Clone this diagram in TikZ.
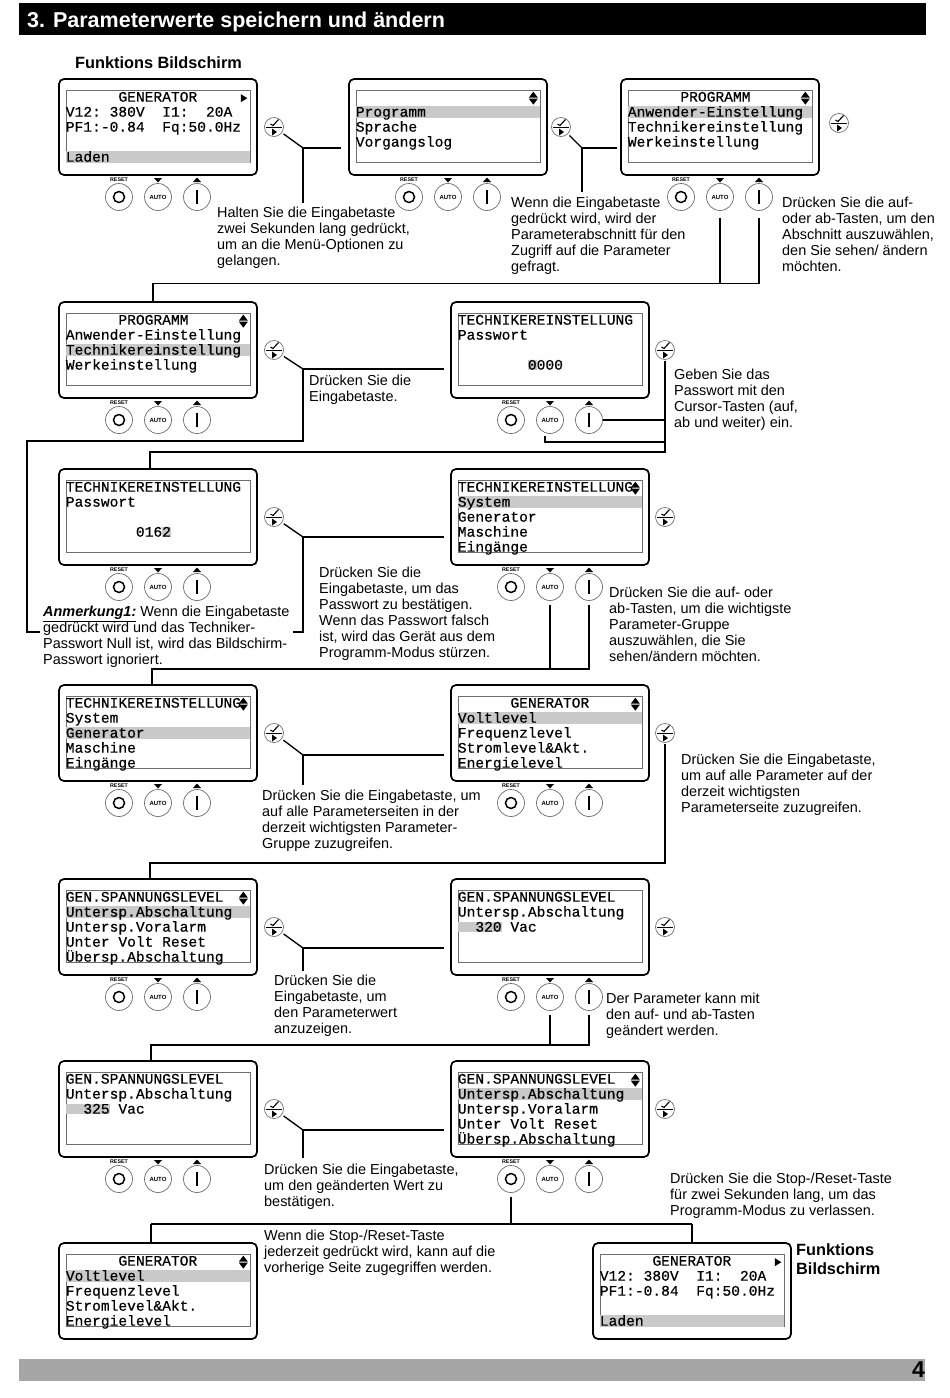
\documentclass[tikz,border=0pt]{standalone}
\usepackage{fontspec}
\setmainfont{Liberation Sans}
\newfontfamily\lcdfont[RawFeature={embolden=0.5}]{Liberation Mono}
\usepackage{tikz}
\usetikzlibrary{arrows.meta, calc, positioning}
\definecolor{lcdgrey}{HTML}{C9C9C9}
\definecolor{barfill}{HTML}{A6A6A6}
\definecolor{rimgrey}{HTML}{6E6E6E}
\newcommand{\lcdspaces}{\def~{\hspace*{8.76pt}}}
\tikzset{
    panelbox/.style={draw=black, line width=1.7pt, rounded corners=5pt, minimum width=198pt, minimum height=96pt, inner sep=0pt},
    screenbox/.style={draw=rimgrey, line width=0.7pt, minimum width=184pt, minimum height=72pt, inner sep=0pt},
    lcdrow/.style={anchor=west, inner sep=0pt, text width=184pt, text height=10.5pt, text depth=1.5pt, align=left, font=\lcdfont\fontsize{14.6}{15}\selectfont\lcdspaces},
    lcdmarked/.style={lcdrow, fill=lcdgrey},
    keybutton/.style={circle, draw=rimgrey, line width=0.7pt, fill=white, minimum size=27pt, inner sep=0pt},
    entericon/.style={circle, draw=rimgrey, line width=0.7pt, minimum size=19pt, inner sep=0pt},
    conn/.style={line width=1.35pt},
    notetext/.style={anchor=north west, inner sep=0pt, yshift=-0.8pt, align=left, font=\fontsize{14.45}{16.1}\selectfont},
    headtext/.style={anchor=north west, inner sep=0pt, yshift=-1pt, align=left, font=\bfseries\fontsize{16.3}{19}\selectfont},
}
\newcommand{\lcdhl}[1]{{\setlength{\fboxsep}{0pt}\colorbox{lcdgrey}{#1}}}
% Anzeige: Name, x, y
\newcommand{\lcdpanel}[3]{
    \node[panelbox] (#1) at (#2+99,#3+48) {};
    \node[screenbox] (#1s) at (#2+99,#3+47.5) {};
    \coordinate (#1m) at ([xshift=-7pt,yshift=-8pt]#1s.north east);
}
% Zeile: Anzeige, Nummer, Text
\newcommand{\lcdline}[3]{
    \node[lcdrow] (#1r#2) at ([yshift={(8-15*#2)*1pt}]#1s.north west) {#3};
}
\newcommand{\lcdsel}[3]{
    \node[lcdmarked] (#1r#2) at ([yshift={(8-15*#2)*1pt}]#1s.north west) {#3};
}
\newcommand{\lcdupdown}[1]{
    \fill ([shift={(-4.5pt,0.5pt)}]#1m) -- ([shift={(4.5pt,0.5pt)}]#1m) -- ([shift={(0pt,6.5pt)}]#1m) -- cycle;
    \fill ([shift={(-4.5pt,-0.5pt)}]#1m) -- ([shift={(4.5pt,-0.5pt)}]#1m) -- ([shift={(0pt,-6.5pt)}]#1m) -- cycle;
}
\newcommand{\lcdnext}[1]{
    \fill ([shift={(-2.5pt,4pt)}]#1m) -- ([shift={(-2.5pt,-4pt)}]#1m) -- ([shift={(4pt,0pt)}]#1m) -- cycle;
}
% Tasten unter der Anzeige: Name, x, y
\newcommand{\lcdkeys}[3]{
    \node[keybutton] (#1r) at (#2+60,#3+118) {};
    \draw[line width=1.5pt] (#1r.center) circle (5.5pt);
    \node[keybutton, font=\bfseries\fontsize{6}{6}\selectfont] (#1a) at (#2+99,#3+118) {AUTO};
    \node[keybutton] (#1u) at (#2+138,#3+118) {};
    \draw[line width=1.2pt] ([yshift=7pt]#1u.center) -- ([yshift=-7pt]#1u.center);
    \node[inner sep=0pt, font=\bfseries\fontsize{5.3}{6}\selectfont] (#1t) at (#2+60,#3+101) {RESET};
    \fill ([shift={(-4pt,2pt)}]#2+99,#3+101) -- ([shift={(4pt,2pt)}]#2+99,#3+101) -- ([shift={(0pt,-2.5pt)}]#2+99,#3+101) -- cycle;
    \fill ([shift={(-4pt,-2pt)}]#2+138,#3+101) -- ([shift={(4pt,-2pt)}]#2+138,#3+101) -- ([shift={(0pt,2.5pt)}]#2+138,#3+101) -- cycle;
}
% Eingabetaste: Name, x, y
\newcommand{\enterkey}[3]{
    \node[entericon] (#1) at (#2,#3) {};
    \draw[line width=0.9pt] ([xshift=-8pt]#1.center) -- ([xshift=8pt]#1.center);
    \draw[line width=1.1pt] ([shift={(-3.5pt,3pt)}]#1.center) -- ([shift={(-1pt,1.5pt)}]#1.center) -- ([shift={(4.5pt,7.5pt)}]#1.center);
    \fill ([shift={(-2pt,-1.5pt)}]#1.center) -- ([shift={(-2pt,-8.5pt)}]#1.center) -- ([shift={(3pt,-5pt)}]#1.center) -- cycle;
}

\begin{document}
\begin{tikzpicture}[x=1pt, y=-1pt]
    \useasboundingbox (0,0) rectangle (950,1398);

    % Kopf und Fuss
    \node[fill=black, minimum width=907pt, minimum height=32pt, inner sep=0pt] (headbar) at (472.5,19) {};
    \node[anchor=west, inner sep=0pt, text=white, font=\bfseries\fontsize{21.5}{24}\selectfont] (headtitle) at (27,22) {3. Parameterwerte speichern und ändern};
    \node[fill=barfill, minimum width=906pt, minimum height=22pt, inner sep=0pt] (footbar) at (472,1370) {};
    \node[anchor=east, inner sep=0pt, font=\bfseries\fontsize{23}{24}\selectfont] (pagenum) at (925,1370) {4};
    \node[headtext] (fbhead) at (75,55) {Funktions Bildschirm};

    % Reihe 1
    \lcdpanel{a1}{59}{79}
    \lcdline{a1}{1}{~~~~~~GENERATOR}
    \lcdline{a1}{2}{V12:~380V~~I1:~~20A}
    \lcdline{a1}{3}{PF1:-0.84~~Fq:50.0Hz}
    \lcdsel{a1}{5}{Laden}
    \lcdnext{a1}
    \lcdkeys{a1k}{59}{79}
    \enterkey{a1e}{274}{127}

    \lcdpanel{a2}{349}{79}
    \lcdsel{a2}{2}{Programm}
    \lcdline{a2}{3}{Sprache}
    \lcdline{a2}{4}{Vorgangslog}
    \lcdupdown{a2}
    \lcdkeys{a2k}{349}{79}
    \enterkey{a2e}{561}{127}

    \lcdpanel{a3}{621}{79}
    \lcdline{a3}{1}{~~~~~~PROGRAMM}
    \lcdsel{a3}{2}{Anwender-Einstellung}
    \lcdline{a3}{3}{Technikereinstellung}
    \lcdline{a3}{4}{Werkeinstellung}
    \lcdupdown{a3}
    \lcdkeys{a3k}{621}{79}
    \enterkey{a3e}{839}{123}

    % Reihe 2
    \lcdpanel{b1}{59}{302}
    \lcdline{b1}{1}{~~~~~~PROGRAMM}
    \lcdline{b1}{2}{Anwender-Einstellung}
    \lcdsel{b1}{3}{Technikereinstellung}
    \lcdline{b1}{4}{Werkeinstellung}
    \lcdupdown{b1}
    \lcdkeys{b1k}{59}{302}
    \enterkey{b1e}{274}{350}

    \lcdpanel{b2}{451}{302}
    \lcdline{b2}{1}{TECHNIKEREINSTELLUNG}
    \lcdline{b2}{2}{Passwort}
    \lcdline{b2}{4}{~~~~~~~~\lcdhl{0}000}
    \lcdkeys{b2k}{451}{302}
    \enterkey{b2e}{665}{350}

    % Reihe 3
    \lcdpanel{c1}{59}{469}
    \lcdline{c1}{1}{TECHNIKEREINSTELLUNG}
    \lcdline{c1}{2}{Passwort}
    \lcdline{c1}{4}{~~~~~~~~016\lcdhl{2}}
    \lcdkeys{c1k}{59}{469}
    \enterkey{c1e}{274}{517}

    \lcdpanel{c2}{451}{469}
    \lcdline{c2}{1}{TECHNIKEREINSTELLUNG}
    \lcdsel{c2}{2}{System}
    \lcdline{c2}{3}{Generator}
    \lcdline{c2}{4}{Maschine}
    \lcdline{c2}{5}{Eingänge}
    \lcdupdown{c2}
    \lcdkeys{c2k}{451}{469}
    \enterkey{c2e}{665}{517}

    % Reihe 4
    \lcdpanel{d1}{59}{685}
    \lcdline{d1}{1}{TECHNIKEREINSTELLUNG}
    \lcdline{d1}{2}{System}
    \lcdsel{d1}{3}{Generator}
    \lcdline{d1}{4}{Maschine}
    \lcdline{d1}{5}{Eingänge}
    \lcdupdown{d1}
    \lcdkeys{d1k}{59}{685}
    \enterkey{d1e}{274}{733}

    \lcdpanel{d2}{451}{685}
    \lcdline{d2}{1}{~~~~~~GENERATOR}
    \lcdsel{d2}{2}{Voltlevel}
    \lcdline{d2}{3}{Frequenzlevel}
    \lcdline{d2}{4}{Stromlevel\&Akt.}
    \lcdline{d2}{5}{Energielevel}
    \lcdupdown{d2}
    \lcdkeys{d2k}{451}{685}
    \enterkey{d2e}{665}{733}

    % Reihe 5
    \lcdpanel{e1}{59}{879}
    \lcdline{e1}{1}{GEN.SPANNUNGSLEVEL}
    \lcdsel{e1}{2}{Untersp.Abschaltung}
    \lcdline{e1}{3}{Untersp.Voralarm}
    \lcdline{e1}{4}{Unter~Volt~Reset}
    \lcdline{e1}{5}{Übersp.Abschaltung}
    \lcdupdown{e1}
    \lcdkeys{e1k}{59}{879}
    \enterkey{e1e}{274}{927}

    \lcdpanel{e2}{451}{879}
    \lcdline{e2}{1}{GEN.SPANNUNGSLEVEL}
    \lcdline{e2}{2}{Untersp.Abschaltung}
    \lcdline{e2}{3}{\lcdhl{~~320}~Vac}
    \lcdkeys{e2k}{451}{879}
    \enterkey{e2e}{665}{927}

    % Reihe 6
    \lcdpanel{f1}{59}{1061}
    \lcdline{f1}{1}{GEN.SPANNUNGSLEVEL}
    \lcdline{f1}{2}{Untersp.Abschaltung}
    \lcdline{f1}{3}{\lcdhl{~~325}~Vac}
    \lcdkeys{f1k}{59}{1061}
    \enterkey{f1e}{274}{1109}

    \lcdpanel{f2}{451}{1061}
    \lcdline{f2}{1}{GEN.SPANNUNGSLEVEL}
    \lcdsel{f2}{2}{Untersp.Abschaltung}
    \lcdline{f2}{3}{Untersp.Voralarm}
    \lcdline{f2}{4}{Unter~Volt~Reset}
    \lcdline{f2}{5}{Übersp.Abschaltung}
    \lcdupdown{f2}
    \lcdkeys{f2k}{451}{1061}
    \enterkey{f2e}{665}{1109}

    % Reihe 7
    \lcdpanel{g1}{59}{1243}
    \lcdline{g1}{1}{~~~~~~GENERATOR}
    \lcdsel{g1}{2}{Voltlevel}
    \lcdline{g1}{3}{Frequenzlevel}
    \lcdline{g1}{4}{Stromlevel\&Akt.}
    \lcdline{g1}{5}{Energielevel}
    \lcdupdown{g1}

    \lcdpanel{g2}{593}{1243}
    \lcdline{g2}{1}{~~~~~~GENERATOR}
    \lcdline{g2}{2}{V12:~380V~~I1:~~20A}
    \lcdline{g2}{3}{PF1:-0.84~~Fq:50.0Hz}
    \lcdsel{g2}{5}{Laden}
    \lcdnext{g2}

    % Texte
    \node[notetext] (t1) at (217,206) {Halten Sie die Eingabetaste\\zwei Sekunden lang gedrückt,\\um an die Menü-Optionen zu\\gelangen.};
    \node[notetext] (t2) at (511,196) {Wenn die Eingabetaste\\gedrückt wird, wird der\\Parameterabschnitt für den\\Zugriff auf die Parameter\\gefragt.};
    \node[notetext] (t3) at (782,196) {Drücken Sie die auf-\\oder ab-Tasten, um den\\Abschnitt auszuwählen,\\den Sie sehen/ ändern\\möchten.};
    \node[notetext] (t4) at (309,374) {Drücken Sie die\\Eingabetaste.};
    \node[notetext] (t5) at (674,368) {Geben Sie das\\Passwort mit den\\Cursor-Tasten (auf,\\ab und weiter) ein.};
    \node[notetext] (t6) at (43,605) {\underline{\textbf{\textit{Anmerkung1:}}} Wenn die Eingabetaste\\gedrückt wird und das Techniker-\\Passwort Null ist, wird das Bildschirm-\\Passwort ignoriert.};
    \node[notetext] (t7) at (319,566) {Drücken Sie die\\Eingabetaste, um das\\Passwort zu bestätigen.\\Wenn das Passwort falsch\\ist, wird das Gerät aus dem\\Programm-Modus stürzen.};
    \node[notetext] (t8) at (609,586) {Drücken Sie die auf- oder\\ab-Tasten, um die wichtigste\\Parameter-Gruppe\\auszuwählen, die Sie\\sehen/ändern möchten.};
    \node[notetext] (t9) at (262,789) {Drücken Sie die Eingabetaste, um\\auf alle Parameterseiten in der\\derzeit wichtigsten Parameter-\\Gruppe zuzugreifen.};
    \node[notetext] (t10) at (681,753) {Drücken Sie die Eingabetaste,\\um auf alle Parameter auf der\\derzeit wichtigsten\\Parameterseite zuzugreifen.};
    \node[notetext] (t11) at (274,974) {Drücken Sie die\\Eingabetaste, um\\den Parameterwert\\anzuzeigen.};
    \node[notetext] (t12) at (606,992) {Der Parameter kann mit\\den auf- und ab-Tasten\\geändert werden.};
    \node[notetext] (t13) at (264,1163) {Drücken Sie die Eingabetaste,\\um den geänderten Wert zu\\bestätigen.};
    \node[notetext] (t14) at (670,1172) {Drücken Sie die Stop-/Reset-Taste\\für zwei Sekunden lang, um das\\Programm-Modus zu verlassen.};
    \node[notetext] (t15) at (264,1229) {Wenn die Stop-/Reset-Taste\\jederzeit gedrückt wird, kann auf die\\vorherige Seite zugegriffen werden.};
    \node[headtext] (t16) at (796,1242) {Funktions\\Bildschirm};

    % Knickpunkte
    \coordinate (a1j) at (303,148);
    \coordinate (a2j) at (582,148);
    \coordinate (a3j) at (720,283.5);
    \coordinate (b1j) at (303,369);
    \coordinate (b1c) at (303,441);
    \coordinate (b1l) at (27,441);
    \coordinate (b1n) at (27,632);
    \coordinate (b2j) at (665,452);
    \coordinate (c1j) at (303,537);
    \coordinate (c1n) at (303,632);
    \coordinate (c2j) at (550,669);
    \coordinate (d1j) at (303,755);
    \coordinate (d2j) at (665,863);
    \coordinate (e1j) at (303,948);
    \coordinate (e2j) at (550,1045);
    \coordinate (f1j) at (303,1130);
    \coordinate (f2j) at (511,1224);
    \coordinate (b1t) at ([xshift=-5pt]b1.north);
    \coordinate (c1t) at ([xshift=-8pt]c1.north);
    \coordinate (d1t) at ([xshift=-6pt]d1.north);
    \coordinate (e1t) at ([xshift=-8pt]e1.north);
    \coordinate (f1t) at ([xshift=-7pt]f1.north);
    \coordinate (g1t) at ([xshift=-7pt]g1.north);

    % Verbindungen
    \draw[conn, shorten <=2pt] (a1e) -- (a1j);
    \draw[conn, shorten >=7pt] (a1j) -- (a2.west |- a1j);
    \draw[conn, shorten >=4pt] (a1j) -- (a1j |- t1.north);
    \draw[conn, shorten <=2pt] (a2e) -- (a2j);
    \draw[conn, shorten >=3pt] (a2j) -- (a3.west |- a2j);
    \draw[conn, shorten >=5pt] (a2j) -- (a2j |- t2.north);
    \draw[conn, shorten <=7pt] (a3ka) -- (a3j);
    \draw[conn, shorten <=7pt] (a3ku) |- (a3j) -- (b1t |- a3j) -- (b1t);
    \draw[conn, shorten <=2pt] (b1e) -- (b1j);
    \draw[conn, shorten >=6pt] (b1j) -- (b2.west |- b1j);
    \draw[conn] (b1j) -- (b1c) -- (b1l) -- (b1n) -- ++(13,0);
    \draw[conn, shorten <=1pt] (b2e) -- (b2j) -- (c1t |- b2j) -- (c1t);
    \draw[conn] (b2ku) -- (b2ku -| b2e);
    \draw[conn, shorten <=2pt] ([xshift=-5pt]b2ka.south) |- (b2e |- 0,442);
    \draw[conn, shorten <=2pt] (c1e) -- (c1j);
    \draw[conn, shorten >=6pt] (c1j) -- (c2.west |- c1j);
    \draw[conn] (c1j) -- (c1n) -- ++(-10,0);
    \draw[conn, shorten <=4pt] (c2ka) -- (c2j);
    \draw[conn, shorten <=4pt] (c2ku) |- (c2j) -- (d1t |- c2j) -- (d1t);
    \draw[conn, shorten <=2pt] (d1e) -- (d1j);
    \draw[conn, shorten >=6pt] (d1j) -- (d2.west |- d1j);
    \draw[conn] (d1j) -- (d1j |- 0,785);
    \draw[conn, shorten <=1pt] (d2e) -- (d2j) -- (e1t |- d2j) -- (e1t);
    \draw[conn, shorten <=2pt] (e1e) -- (e1j);
    \draw[conn, shorten >=6pt] (e1j) -- (e2.west |- e1j);
    \draw[conn] (e1j) -- (e1j |- 0,971);
    \draw[conn, shorten <=4pt] (e2ka) -- (e2j);
    \draw[conn, shorten <=4pt] (e2ku) |- (e2j) -- (f1t |- e2j) -- (f1t);
    \draw[conn, shorten <=2pt] (f1e) -- (f1j);
    \draw[conn, shorten >=6pt] (f1j) -- (f2.west |- f1j);
    \draw[conn] (f1j) -- (f1j |- 0,1158);
    \draw[conn, shorten <=4pt] (f2kr) -- (f2j);
    \draw[conn] (g1t |- f2j) -- (g2.north |- f2j);
    \draw[conn] (g1t |- f2j) -- (g1t);
    \draw[conn] (g2.north |- f2j) -- (g2.north);
\end{tikzpicture}
\end{document}
